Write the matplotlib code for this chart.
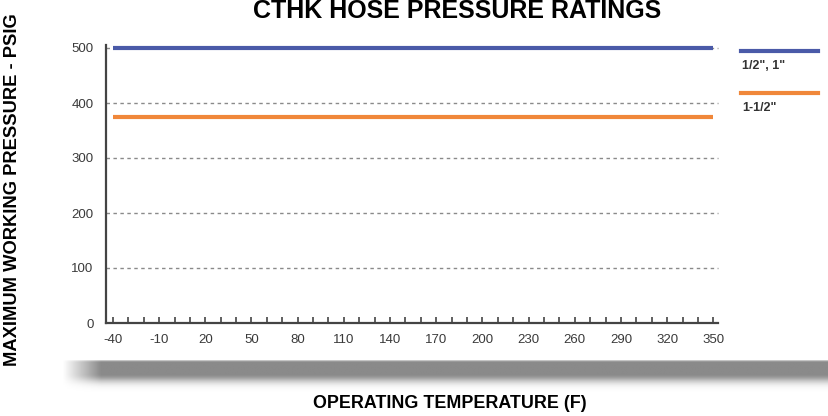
import matplotlib
matplotlib.use("Agg")
import matplotlib.pyplot as plt
import numpy as np
from matplotlib.lines import Line2D

# ---------- данные ----------
temps = [-40, 350]
series_labels = ['1/2", 1"', '1-1/2"']
series_pressure = [[500, 500], [375, 375]]
series_colors = ["#4a5aa8", "#f0873a"]
x_ticks = list(range(-40, 351, 30))
x_minor = list(range(-40, 351, 10))
y_ticks = [0, 100, 200, 300, 400, 500]

plt.rcParams["axes.unicode_minus"] = False

W, H = 829, 416
fig = plt.figure(figsize=(W / 100, H / 100), dpi=100)

sans = ["Liberation Sans", "DejaVu Sans"]

# Основная область графика
ax = fig.add_axes([106 / W, (H - 323) / H, (718 - 106) / W, (323 - 48) / H])
ax.set_xlim(-44.5, 353)
ax.set_ylim(0, 500)

for vals, col in zip(series_pressure, series_colors):
    ax.plot(temps, vals, color=col, lw=3, solid_capstyle="butt", clip_on=False,
            zorder=3)

for y in y_ticks[1:]:
    ax.axhline(y, color="#8a8a8a", lw=1, ls=(0, (2.5, 2.5)), zorder=1,
               clip_on=False)

for s in ["top", "right"]:
    ax.spines[s].set_visible(False)
for s in ["left", "bottom"]:
    ax.spines[s].set_color("#444")
    ax.spines[s].set_linewidth(1.6)
ax.spines["left"].set_bounds(0, 505)

ax.set_xticks(x_ticks)
ax.set_xticks(x_minor, minor=True)
ax.set_yticks(y_ticks)
ax.tick_params(axis="x", which="both", direction="in", length=4, width=1.2,
               color="#444", pad=8)
ax.tick_params(axis="y", length=0, pad=9)
for lab in ax.get_xticklabels() + ax.get_yticklabels():
    lab.set_family(sans)
    lab.set_fontsize(9.5)
    lab.set_color("#3a3a3a")

# Легенда справа
leg_y = [51, 93]
for lab, col, yy in zip(series_labels, series_colors, leg_y):
    fig.add_artist(Line2D([741 / W, 818 / W], [1 - yy / H, 1 - yy / H],
                          color=col, lw=3, transform=fig.transFigure))
    fig.text(742 / W, 1 - (yy + 15) / H, lab, fontsize=9, family=sans,
             color="#333", fontweight="bold", va="center")

# Серая «тень» под графиком
sh = fig.add_axes([62 / W, (H - 392) / H, (W - 62) / W, 32 / H])
sh.axis("off")
vy = np.linspace(0, 1, 80)
prof = np.where(vy < 0.08, vy / 0.08,
                np.where(vy < 0.45, 1.0, np.exp(-((vy - 0.45) / 0.25) ** 2)))
hx = np.linspace(0, 1, 400)
hfade = np.clip(hx / 0.05, 0, 1)
img = 1 - 0.46 * np.outer(prof, hfade)
sh.imshow(img, cmap="gray", vmin=0, vmax=1, aspect="auto",
          interpolation="bilinear")

fig.text(457 / W, 1 - 11 / H, "CTHK HOSE PRESSURE RATINGS", ha="center",
         va="center", fontsize=18, fontweight="bold", family=sans)
fig.text(450 / W, 1 - 404 / H, "OPERATING TEMPERATURE (F)", ha="center",
         va="center", fontsize=12.9, fontweight="bold", family=sans)
fig.text(13 / W, 1 - 190 / H, "MAXIMUM WORKING PRESSURE - PSIG", ha="center",
         va="center", rotation=90, fontsize=13.2, fontweight="bold",
         family=sans)

fig.savefig("out.png", dpi=100)
